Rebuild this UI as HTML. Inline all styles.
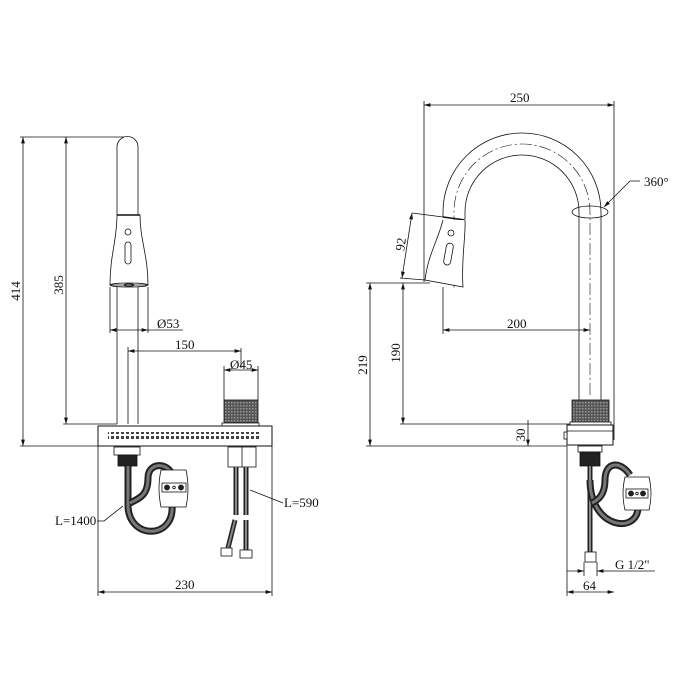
<!DOCTYPE html>
<html><head><meta charset="utf-8"><style>
html,body{margin:0;padding:0;background:#fff}
svg{display:block}
text{font-family:"Liberation Serif",serif;font-size:13px;fill:#111}
</style></head><body>
<svg width="690" height="690" viewBox="0 0 690 690" xmlns="http://www.w3.org/2000/svg">
<defs>
<pattern id="h" width="3" height="3" patternUnits="userSpaceOnUse"><rect width="3" height="3" fill="#555"/><rect width="1.5" height="1.5" fill="#999"/></pattern>
<pattern id="dots" width="5" height="5" patternUnits="userSpaceOnUse"><rect width="5" height="5" fill="#fff"/><rect x="1" y="1" width="3" height="3" fill="#444"/></pattern>
<marker id="a" viewBox="0 0 10 6" refX="10" refY="3" markerWidth="8" markerHeight="5" orient="auto-start-reverse"><path d="M0,0L10,3L0,6z" fill="#111"/></marker>
</defs>
<g stroke="#111" stroke-width="0.8" fill="none">
<line x1="20" y1="137" x2="128" y2="137"/>
<line x1="20" y1="446" x2="98" y2="446"/>
<line x1="23" y1="137" x2="23" y2="446" marker-start="url(#a)" marker-end="url(#a)"/>
<line x1="63" y1="424" x2="117" y2="424"/>
<line x1="66" y1="137" x2="66" y2="424" marker-start="url(#a)" marker-end="url(#a)"/>
<line x1="110" y1="287" x2="110" y2="333"/><line x1="148" y1="287" x2="148" y2="333"/>
<line x1="110" y1="330" x2="148" y2="330" marker-start="url(#a)" marker-end="url(#a)"/>
<line x1="148" y1="330" x2="183" y2="330"/>
<line x1="128" y1="347" x2="128" y2="424"/><line x1="241" y1="348" x2="241" y2="368"/>
<line x1="128" y1="351" x2="241" y2="351" marker-start="url(#a)" marker-end="url(#a)"/>
<line x1="224" y1="366" x2="224" y2="400"/><line x1="258" y1="366" x2="258" y2="400"/>
<line x1="224" y1="370" x2="258" y2="370" marker-start="url(#a)" marker-end="url(#a)"/>
<line x1="98" y1="446" x2="98" y2="596"/><line x1="272" y1="446" x2="272" y2="596"/>
<line x1="98" y1="592" x2="272" y2="592" marker-start="url(#a)" marker-end="url(#a)"/>
<path d="M117,215 L117,147 A10.5,10.5 0 0 1 138,147 L138,215" fill="#fff"/>
<path d="M117,215 C117,240 110,255 110,285 L148,285 C148,255 140,240 140,215 Z" fill="#fff"/>
<line x1="117" y1="215" x2="140" y2="215" stroke-width="1.4"/>
<circle cx="128" cy="232" r="3"/>
<rect x="125" y="242" width="6" height="22" rx="3"/>
<ellipse cx="129" cy="285" rx="19" ry="2"/>
<ellipse cx="129" cy="285" rx="5" ry="1.2"/>
<line x1="117" y1="287" x2="117" y2="424"/><line x1="138" y1="287" x2="138" y2="424"/>
<rect x="224" y="400" width="34" height="23" fill="url(#h)"/>
<rect x="222" y="423" width="37" height="3" fill="#fff"/>
<rect x="98" y="426" width="174" height="20" fill="#fff" stroke-width="1"/>
<rect x="108" y="432" width="152" height="8" fill="url(#dots)" stroke="none"/>
<rect x="114" y="447" width="26" height="8" fill="#fff"/>
<rect x="118" y="455" width="19" height="11" fill="#222"/>
<path d="M128,466 L128,505 C128,540 175,540 172,505" stroke="#222" stroke-width="7"/>
<path d="M128,466 L128,505 C128,540 175,540 172,505" stroke="#777" stroke-width="3"/>
<path d="M172,475 C168,462 148,462 148,478 C148,495 140,498 130,503" stroke="#222" stroke-width="7"/>
<path d="M172,475 C168,462 148,462 148,478 C148,495 140,498 130,503" stroke="#777" stroke-width="3"/>
<path d="M161,470 L186,470 Q190,488 186,507 L161,507 Q157,488 161,470Z" fill="#fff"/>
<rect x="162" y="483" width="24" height="9" fill="#fff"/>
<circle cx="167" cy="487.5" r="2.5" fill="#222"/><circle cx="181" cy="487.5" r="2.5" fill="#222"/><circle cx="174" cy="487.5" r="1.3"/>
<rect x="228" y="447" width="28" height="20" fill="#fff"/>
<line x1="242" y1="447" x2="242" y2="467"/>
<path d="M236,467 L236,515 M246,467 L246,515 M235,520 L228,548 M246,520 L246,550" stroke="#222" stroke-width="5"/>
<path d="M236,467 L236,515 M246,467 L246,515 M235,520 L228,548 M246,520 L246,550" stroke="#888" stroke-width="2"/>
<rect x="221" y="548" width="11" height="8" fill="#fff"/><rect x="240" y="550" width="12" height="8" fill="#fff"/>
<path d="M97,521 L104,521 L123,506"/><path d="M283,503 L250,490"/>
<line x1="424" y1="101" x2="424" y2="282"/><line x1="614" y1="101" x2="614" y2="440"/>
<line x1="424" y1="105" x2="614" y2="105" marker-start="url(#a)" marker-end="url(#a)"/>
<line x1="366" y1="283" x2="430" y2="283"/>
<line x1="370" y1="283" x2="370" y2="446" marker-start="url(#a)" marker-end="url(#a)"/>
<line x1="403" y1="283" x2="403" y2="424" marker-start="url(#a)" marker-end="url(#a)"/>
<line x1="366" y1="446" x2="567" y2="446"/><line x1="400" y1="424" x2="572" y2="424"/>
<line x1="528" y1="420" x2="528" y2="446" marker-end="url(#a)"/>
<line x1="412" y1="213" x2="443" y2="217"/><line x1="400" y1="278" x2="425" y2="280"/>
<line x1="412" y1="213" x2="402" y2="278" marker-start="url(#a)" marker-end="url(#a)"/>
<line x1="443" y1="287" x2="443" y2="334"/>
<line x1="443" y1="330" x2="590" y2="330" marker-start="url(#a)" marker-end="url(#a)"/>
<line x1="567" y1="446" x2="567" y2="596"/>
<line x1="567" y1="592" x2="614" y2="592" marker-start="url(#a)" marker-end="url(#a)"/>
<line x1="584" y1="562" x2="584" y2="576"/><line x1="597" y1="562" x2="597" y2="576"/>
<line x1="567" y1="571" x2="584" y2="571" marker-end="url(#a)"/>
<line x1="613" y1="571" x2="597" y2="571" marker-end="url(#a)"/>
<line x1="613" y1="571" x2="655" y2="571"/>
<path d="M601,400 L601,212 A79,79 0 0 0 443,212 L443,217"/>
<path d="M579,400 L579,212 A57,57 0 0 0 465,212 L465,219"/>
<path d="M590,395 L590,212 A68,68 0 0 0 454,212 L454,290" stroke-dasharray="12,3,2,3" stroke-width="0.6"/>
<path d="M443,217 L465,220" stroke-width="1.4"/>
<path d="M443,220 C438,240 428,255 425,280 L463,287 C461,260 466,235 465,220" fill="#fff"/>
<circle cx="451" cy="233" r="3"/>
<rect x="445" y="243" width="7" height="22" rx="3.5" transform="rotate(10 448 254)"/>
<ellipse cx="590" cy="212" rx="18" ry="6"/>
<path d="M640,181 L630,181 L604,207" marker-end="url(#a)"/>
<rect x="572" y="400" width="37" height="22" fill="url(#h)"/>
<rect x="570" y="422" width="41" height="3" fill="#fff"/>
<rect x="567" y="425" width="46" height="20" fill="#fff" stroke-width="1"/>
<line x1="567" y1="431" x2="613" y2="431"/>
<rect x="564" y="432" width="3" height="7" fill="#fff"/>
<rect x="578" y="446" width="24" height="6" fill="#fff"/>
<rect x="580" y="452" width="20" height="14" fill="#222"/>
<path d="M590,466 L590,552" stroke="#222" stroke-width="5"/><path d="M590,466 L590,552" stroke="#888" stroke-width="2"/>
<path d="M590,480 C590,530 640,535 638,505" stroke="#222" stroke-width="7"/>
<path d="M590,480 C590,530 640,535 638,505" stroke="#777" stroke-width="3"/>
<path d="M630,475 C620,460 605,462 605,480 C605,495 598,500 592,503" stroke="#222" stroke-width="7"/>
<path d="M630,475 C620,460 605,462 605,480 C605,495 598,500 592,503" stroke="#777" stroke-width="3"/>
<path d="M625,477 L649,477 Q653,494 649,510 L625,510 Q621,494 625,477Z" fill="#fff"/>
<rect x="626" y="489" width="22" height="9" fill="#fff"/>
<circle cx="631" cy="493.5" r="2.5" fill="#222"/><circle cx="643" cy="493.5" r="2.5" fill="#222"/><circle cx="637" cy="493.5" r="1.3"/>
<rect x="585" y="552" width="11" height="10" fill="#fff"/>
</g>
<text x="157" y="328">Ø53</text>
<text x="175" y="349">150</text>
<text x="230" y="369">Ø45</text>
<text x="175" y="589">230</text>
<text x="55" y="525">L=1400</text>
<text x="284" y="507">L=590</text>
<text transform="translate(20,291) rotate(-90)" text-anchor="middle">414</text>
<text transform="translate(63,285) rotate(-90)" text-anchor="middle">385</text>
<text x="510" y="102">250</text>
<text x="644" y="186">360°</text>
<text transform="translate(405,245) rotate(-81)" text-anchor="middle">92</text>
<text x="507" y="328">200</text>
<text transform="translate(367,365) rotate(-90)" text-anchor="middle">219</text>
<text transform="translate(400,353) rotate(-90)" text-anchor="middle">190</text>
<text transform="translate(525,435) rotate(-90)" text-anchor="middle">30</text>
<text x="615" y="569">G 1/2"</text>
<text x="583" y="590">64</text>
</svg>
</body></html>
